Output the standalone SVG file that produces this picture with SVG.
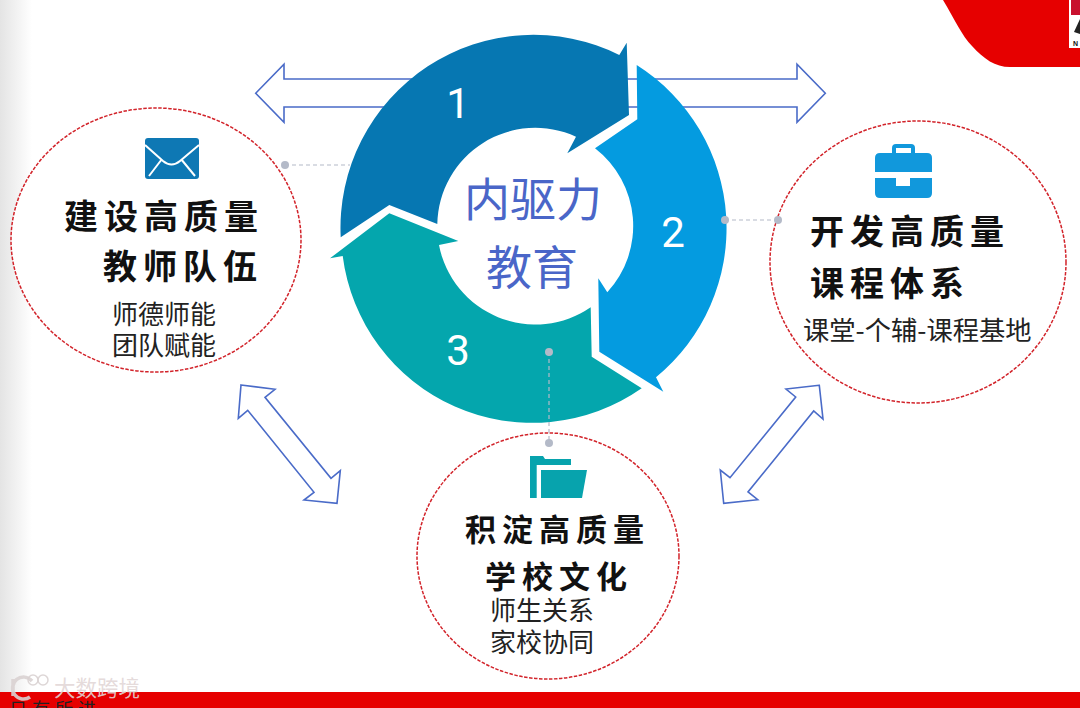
<svg xmlns="http://www.w3.org/2000/svg" width="1080" height="708" viewBox="0 0 1080 708">
<defs>
<linearGradient id="edge" x1="0" y1="0" x2="1" y2="0"><stop offset="0" stop-color="#e4e4e4"/><stop offset="1" stop-color="#ffffff"/></linearGradient>
<clipPath id="bar"><rect x="0" y="692" width="1080" height="16"/></clipPath>
</defs>
<style>
.arrow{fill:#fff;stroke:#4a6bc8;stroke-width:1.6;stroke-linejoin:miter}
.oval{fill:#fff;stroke:#d2232a;stroke-width:1.5;stroke-dasharray:3.5 1.5}
.lead{fill:none;stroke:#b4bac8;stroke-width:1.2;stroke-dasharray:4 3}
.dot{fill:#b4bac8}
.h{font-family:"Noto Sans CJK SC","Liberation Sans",sans-serif;font-weight:700;fill:#111;font-size:34px;letter-spacing:6px}
.b{font-size:31px;letter-spacing:6px}
.s{font-family:"Noto Sans CJK SC","Liberation Sans",sans-serif;fill:#222;font-size:26px}
.c{font-family:"Noto Sans CJK SC","Liberation Sans",sans-serif;fill:#4a66c8;font-size:46px}
.n{font-family:Roboto,"Liberation Sans",sans-serif;fill:#fff;font-size:42px;text-anchor:middle}
.wm{stroke:#d9d2d2;stroke-opacity:.9;fill:none}
</style>
<rect width="1080" height="708" fill="#fff"/>
<rect width="32" height="708" fill="url(#edge)"/>
<g id="brand-top">
<path d="M943 0C955 20 962 36 972 46C984 59 995 67 1010 67L1080 67L1080 0Z" fill="#e60000"/>
<rect x="1069" y="0" width="11" height="48" fill="#fff"/>
<rect x="1071" y="0" width="9" height="15" fill="#c8102e"/>
<path d="M1074 32L1080 19L1080 34Z" fill="#222"/>
<text x="1073" y="46" font-family="Liberation Sans,sans-serif" font-size="7" font-weight="700" fill="#111">N</text>
</g>
<g id="connectors">
<path id="arrow-top" class="arrow" d="M255.7 93.3L284 64.300V79H797V64.300L825.300 93.300L797 122.300V107H284V122.300Z"/>
<path id="arrow-left" class="arrow" d="M241 385L275 389.300L265 397.300L331 478.300L340.300 470.700L337 503.300L304 500L314 492.300L247.700 410.300L238.300 418.300Z"/>
<path id="arrow-right" class="arrow" d="M819.300 385.300L786 389L795.700 397L730 477.700L720.300 470L723.700 503.300L757.700 499.700L748 492L813.700 411L823 419Z"/>
</g>
<g id="node-left">
<ellipse class="oval" cx="156" cy="240" rx="145" ry="132"/>
<rect x="145" y="138" width="54" height="41" rx="3" fill="#0e78b4"/>
<path d="M145 145L163 161Q171.500 168 180 161L199 145M149 176L162 159M195 176L181 159" fill="none" stroke="#fff" stroke-width="2"/>
<text class="h" x="64" y="229">建设高质量</text>
<text class="h" x="103" y="279">教师队伍</text>
<text class="s" x="112" y="324">师德师能</text>
<text class="s" x="112" y="355">团队赋能</text>
</g>
<g id="node-right">
<ellipse class="oval" cx="918" cy="262" rx="148" ry="141"/>
<path d="M892 154V148Q892 144 896 144H911Q915 144 915 148V154H911V148H896V154Z" fill="#1198dc"/>
<path d="M875 172V158Q875 153 880 153H927Q932 153 932 158V172Z" fill="#1198dc"/>
<path d="M875 178H896V186H910V178H932V193Q932 198 927 198H880Q875 198 875 193Z" fill="#1198dc"/>
<text class="h" x="810" y="244">开发高质量</text>
<text class="h" x="810" y="296">课程体系</text>
<text class="s" x="803" y="340" style="font-size:26.300px">课堂-个辅-课程基地</text>
</g>
<g id="node-bottom">
<ellipse class="oval" cx="548" cy="556" rx="131" ry="123"/>
<path d="M530 456H543L545 459H571V465H536.700V498H530Z" fill="#07a3ad"/>
<path d="M541 470H587L582 498H541Z" fill="#07a3ad"/>
<text class="h b" x="465" y="541">积淀高质量</text>
<text class="h b" x="485" y="588">学校文化</text>
<text class="s" x="490" y="620">师生关系</text>
<text class="s" x="490" y="652">家校协同</text>
</g>
<g id="ring">
<path id="seg-1" d="M340.700 237.300A193 193 0 0 1 619.300 55L626.700 42.700L629 115L567.300 153.300L576 136.700A98 98 0 0 0 437.300 224L389.300 205Z" fill="#0677b2"/>
<path id="seg-2" d="M636.700 65A193 193 0 0 1 656 377.300L663.300 391.700L599.300 351.700L598.300 278.300L607.300 292.300A98 98 0 0 0 595 148.300L637.300 119.300Z" fill="#049be0"/>
<path id="seg-3" d="M641.700 388.300A191 191 0 0 1 342.700 256L330 258.300L389.300 213.300L458.300 241L439 245A98 98 0 0 0 590.700 307.300L591.700 356.700Z" fill="#04a6ad"/>
<text class="n" x="458" y="118">1</text>
<text class="n" x="673" y="247">2</text>
<text class="n" x="458" y="365">3</text>
<text class="c" x="464" y="216">内驱力</text>
<text class="c" x="486" y="284">教育</text>
</g>
<g id="leads">
<path class="lead" d="M285 165H350M725 220H778M549 352V443"/>
<circle class="dot" cx="285" cy="165" r="4"/>
<circle class="dot" cx="725" cy="220" r="4"/>
<circle class="dot" cx="778" cy="220" r="4"/>
<circle class="dot" cx="549" cy="352" r="4"/>
<circle class="dot" cx="549" cy="443" r="4"/>
</g>
<g id="footer">
<rect x="0" y="692" width="1080" height="16" fill="#e60000"/>
<text x="9" y="716" clip-path="url(#bar)" font-family="Noto Sans CJK SC,sans-serif" font-size="18" fill="#222" letter-spacing="5">日有所进</text>
<text x="54" y="696" font-family="Noto Sans CJK SC,sans-serif" font-size="21.500" fill="#e2d6d6" fill-opacity=".9">大数跨境</text>
<path class="wm" d="M13 679V696M32 681A11 11 0 1 0 30 697" stroke-width="3.500"/>
<circle class="wm" cx="33" cy="680" r="5" stroke-width="1.500"/>
<circle class="wm" cx="43" cy="680" r="5" stroke-width="1.500"/>
</g>
</svg>
